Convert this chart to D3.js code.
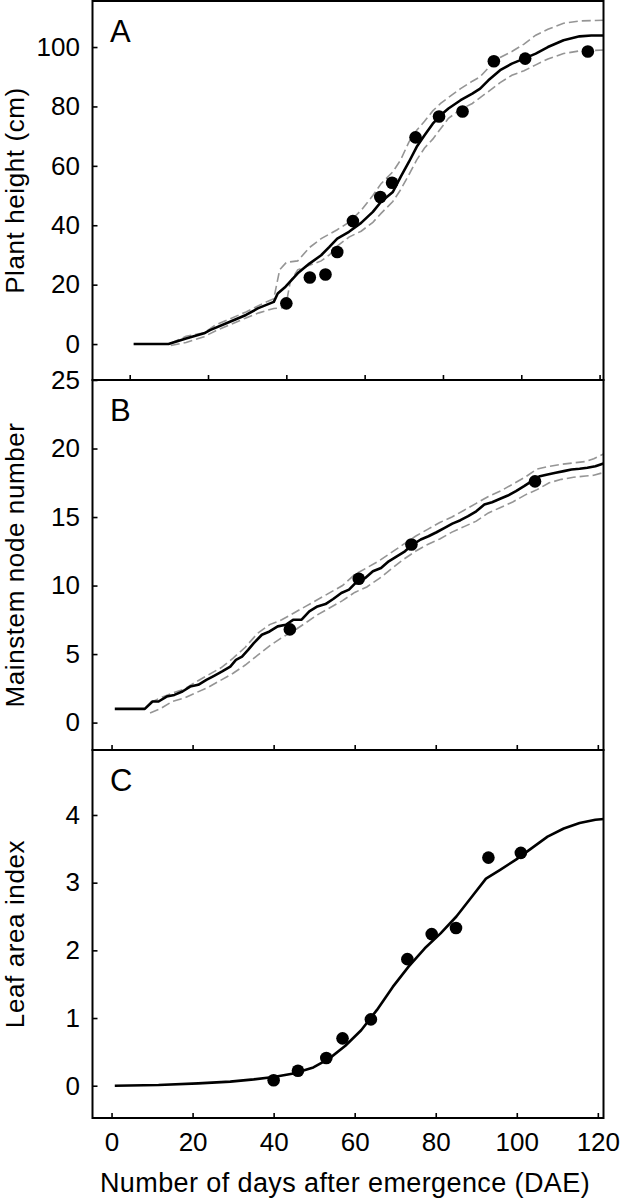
<!DOCTYPE html>
<html>
<head>
<meta charset="utf-8">
<script src="https://cdn.jsdelivr.net/npm/d3@7"></script>
<style>
  body { margin: 0; background: #fff; }
  text { font-family: "Liberation Sans", Arial, Helvetica, sans-serif; }
</style>
</head>
<body>
<script>
// ---- data ----
// panel A: plant height (cm)
var heightObs = [[40,13.7],[46,22.4],[50,23.4],[53,31.0],[57,41.4],[64,49.5],[67,54.3],[73,69.6],[79,76.6],[85,78.3],[93,95.2],[101,96.1],[117,98.5]];
var heightSim = [[1,0],[9.9,0],[14.4,1.9],[19,3.6],[20.5,4.7],[25.6,7.5],[29.7,9.8],[32.7,12.0],[36.8,14.2],[37.8,17.0],[39.8,19.3],[42.9,23.8],[45.9,27.1],[48.9,29.9],[51,32.7],[53,35.5],[56,37.8],[59.1,40.8],[62.1,44.5],[64.2,47.9],[67.2,51.2],[69.2,56.3],[71.3,61.3],[73.3,66.4],[75.3,70.3],[77.4,74.2],[79.4,77],[81.4,79.3],[84.5,82.1],[87.5,84.3],[89.5,86],[91.6,88.8],[94.6,92.2],[97.6,94.4],[100.7,96.1],[103.7,97.8],[106.8,100],[110.8,102.3],[114.9,103.6],[117.9,103.9],[121.2,103.9]];
var heightUpper = [[10.5,0.3],[14.4,2.6],[19,3.8],[22,6.5],[25.6,8.5],[29.7,10.8],[33,13],[36.8,15.3],[38.3,25],[40,27.5],[42.9,28],[45.9,32.5],[48.9,35.5],[53,38.5],[56,41],[59.1,45],[62.1,50],[64.2,54],[67.2,58],[69.2,62],[71.3,68],[73.3,72],[75.3,75],[77.4,78.5],[79.4,81],[81.4,83],[84.5,86],[87.5,88.5],[89.5,90],[91.6,93],[94.6,96.5],[97.6,98.5],[100.7,101],[103.7,104],[106.8,106],[110.8,108],[114.9,108.8],[121.2,109]];
var heightLower = [[10.5,-0.5],[14.4,0.5],[19,2.5],[22,4.5],[25.6,6.5],[29.7,8.8],[33,10.5],[36.8,12],[39.8,12.3],[41,21],[42.9,25],[45.9,26.5],[48.9,28],[51,30],[53,33],[56,36],[59.1,38],[62.1,41],[64.2,44],[67.2,48],[69.2,52],[71.3,57],[73.3,62],[75.3,66],[77.4,69],[79.4,72.5],[81.4,76],[84.5,79],[87.5,81],[89.5,83],[91.6,85],[94.6,88],[97.6,90.5],[100.7,92],[103.7,94],[106.8,96],[110.8,97.8],[114.9,98.7],[121.2,99]];

// panel B: mainstem node number
var nodeObs = [[44,6.8],[61,10.5],[74,13.0],[104.5,17.6]];
var nodeSim = [[0.8,1],[8.2,1],[10.1,1.54],[11.6,1.54],[13.6,1.9],[15.5,2.02],[17.5,2.27],[19.4,2.63],[21.4,2.76],[23.4,3.12],[25.3,3.41],[27.3,3.73],[29.3,4.09],[30.7,4.58],[32.2,4.82],[33.7,5.31],[35.1,5.8],[37.1,6.41],[39,6.65],[41,7.02],[43,7.14],[44.9,7.51],[46.9,7.51],[48.8,8.12],[50.8,8.48],[52.8,8.65],[54.7,9.02],[56.7,9.46],[58.6,9.7],[60.6,10.31],[62.6,10.55],[64.5,11.04],[66.5,11.28],[68.4,11.77],[70.4,12.13],[72.4,12.5],[74.3,12.99],[76.3,13.36],[78.2,13.6],[80.2,13.89],[82.2,14.21],[84.1,14.52],[86.1,14.77],[88,15.06],[90,15.42],[92,15.91],[93.9,16.08],[95.9,16.33],[97.8,16.57],[99.8,16.89],[101.8,17.25],[103.7,17.62],[105.7,17.98],[107.6,18.11],[109.6,18.23],[111.6,18.35],[113.5,18.47],[115.5,18.52],[117.4,18.6],[119.4,18.71],[121.4,18.91]];
var nodeUpper = [[9.5,1.45],[12,1.8],[15,2.15],[18,2.45],[21,3.0],[24,3.5],[27,4.0],[30,4.7],[33,5.5],[36,6.5],[39,7.15],[42,7.5],[45,8.0],[48,8.5],[51,9.0],[54,9.5],[57,10.0],[60,10.8],[63,11.3],[66,11.8],[69,12.4],[72,13.0],[75,13.6],[78,14.1],[81,14.6],[84,15.0],[87,15.5],[90,16.0],[93,16.5],[96,16.9],[99,17.4],[102,17.9],[105,18.5],[108,18.7],[111,18.85],[114,18.95],[117,19.05],[119,19.25],[121.4,19.6]];
var nodeLower = [[9.5,0.7],[12,1.0],[15,1.55],[18,1.8],[21,2.2],[24,2.6],[27,3.1],[30,3.6],[33,4.2],[36,4.9],[39,5.6],[42,6.2],[45,6.7],[48,7.3],[51,7.9],[54,8.4],[57,8.9],[60,9.5],[63,9.9],[66,10.5],[69,11.2],[72,11.9],[75,12.5],[78,13.0],[81,13.4],[84,13.9],[87,14.3],[90,14.7],[93,15.3],[96,15.7],[99,16.1],[102,16.6],[105,17.0],[108,17.5],[111,17.75],[114,17.9],[117,18.0],[119,18.05],[121.4,18.25]];

// panel C: leaf area index
var laiObs = [[40,0.08],[46,0.22],[53,0.41],[57,0.70],[64,0.98],[73,1.87],[79,2.24],[85,2.33],[93,3.37],[101,3.44]];
var laiSim = [[0.8,0],[11.6,0.01],[21.4,0.035],[29.3,0.06],[35.1,0.094],[40,0.13],[44.9,0.18],[49.8,0.27],[53.7,0.4],[57.7,0.59],[61.6,0.82],[65.5,1.12],[69.4,1.46],[73.3,1.76],[77.3,2.03],[81.2,2.25],[85.1,2.5],[89,2.8],[92.4,3.06],[95.9,3.19],[99.8,3.34],[103.7,3.51],[107.6,3.68],[111.6,3.8],[115.5,3.88],[119.4,3.93],[121.5,3.94]];

var xTicks = [0, 20, 40, 60, 80, 100, 120];
var heightTicks = [0, 20, 40, 60, 80, 100];
var nodeTicks = [0, 5, 10, 15, 20, 25];
var laiTicks = [0, 1, 2, 3, 4];

var width = 622, height = 1200,
    left = 92.5, right = 603.5;

var panels = [
  {letter: 'A', title: 'Plant height (cm)', top: 1, bottom: 380, xdom: [-9.5, 121.0], ydom: [-12.1, 115.5],
   yticks: heightTicks, obs: heightObs, sim: heightSim, upper: heightUpper, lower: heightLower, labelX: false},
  {letter: 'B', title: 'Mainstem node number', top: 380, bottom: 750, xdom: [-4.7, 121.4], ydom: [-2, 25],
   yticks: nodeTicks, obs: nodeObs, sim: nodeSim, upper: nodeUpper, lower: nodeLower, labelX: false},
  {letter: 'C', title: 'Leaf area index', top: 750, bottom: 1118, xdom: [-4.7, 121.4], ydom: [-0.477, 4.96],
   yticks: laiTicks, obs: laiObs, sim: laiSim, upper: null, lower: null, labelX: true}
];

var svg = d3.select('body').append('svg')
    .attr('width', width)
    .attr('height', height);

panels.forEach(function (p, i) {
  var x = d3.scaleLinear().domain(p.xdom).range([left, right]),
      y = d3.scaleLinear().domain(p.ydom).range([p.bottom, p.top]);

  var clipId = 'clip' + i;
  svg.append('clipPath').attr('id', clipId)
    .append('rect')
    .attr('x', left).attr('y', p.top)
    .attr('width', right - left).attr('height', p.bottom - p.top);

  var g = svg.append('g');

  var line = d3.line()
      .x(function (d) { return x(d[0]); })
      .y(function (d) { return y(d[1]); });

  var plot = g.append('g').attr('clip-path', 'url(#' + clipId + ')');

  [p.upper, p.lower].forEach(function (band) {
    if (!band) return;
    plot.append('path')
      .attr('d', line(band))
      .attr('fill', 'none')
      .attr('stroke', '#959595')
      .attr('stroke-width', 1.6)
      .attr('stroke-dasharray', '9,4');
  });

  plot.append('path')
    .attr('d', line(p.sim))
    .attr('fill', 'none')
    .attr('stroke', '#000')
    .attr('stroke-width', 2.6)
    .attr('stroke-linejoin', 'round');

  plot.selectAll('circle')
    .data(p.obs)
    .enter()
    .append('circle')
    .attr('cx', function (d) { return x(d[0]); })
    .attr('cy', function (d) { return y(d[1]); })
    .attr('r', 6.3)
    .attr('fill', '#000');

  // axes with inward ticks
  var yAxis = g.append('g')
    .attr('transform', 'translate(' + left + ',0)')
    .call(d3.axisLeft(y).tickValues(p.yticks).tickSize(-5).tickPadding(12.5)
      .tickFormat(d3.format('d')));
  var xAxis = g.append('g')
    .attr('transform', 'translate(0,' + p.bottom + ')')
    .call(d3.axisBottom(x).tickValues(xTicks).tickSize(-5).tickPadding(15)
      .tickFormat(p.labelX ? d3.format('d') : function () { return ''; }));

  [yAxis, xAxis].forEach(function (a) {
    a.select('.domain').remove();
    a.attr('font-family', null).attr('font-size', null);
    a.selectAll('line').attr('stroke-width', 1.6);
    a.selectAll('text').attr('font-size', 26).attr('fill', '#000');
  });

  // frame
  g.append('rect')
    .attr('x', left).attr('y', p.top)
    .attr('width', right - left).attr('height', p.bottom - p.top)
    .attr('fill', 'none')
    .attr('stroke', '#000')
    .attr('stroke-width', 2);

  g.append('text')
    .attr('x', 110)
    .attr('y', p.top + 41)
    .attr('font-size', 31)
    .text(p.letter);

  g.append('text')
    .attr('transform', 'translate(24,' + ((p.top + p.bottom) / 2) + ') rotate(-90)')
    .attr('text-anchor', 'middle')
    .attr('font-size', 26)
    .attr('letter-spacing', 0.6)
    .text(p.title);
});

svg.append('text')
  .attr('x', (left + right) / 2 - 3)
  .attr('y', 1192)
  .attr('text-anchor', 'middle')
  .attr('font-size', 27)
  .attr('letter-spacing', 0.4)
  .text('Number of days after emergence (DAE)');
</script>
</body>
</html>
